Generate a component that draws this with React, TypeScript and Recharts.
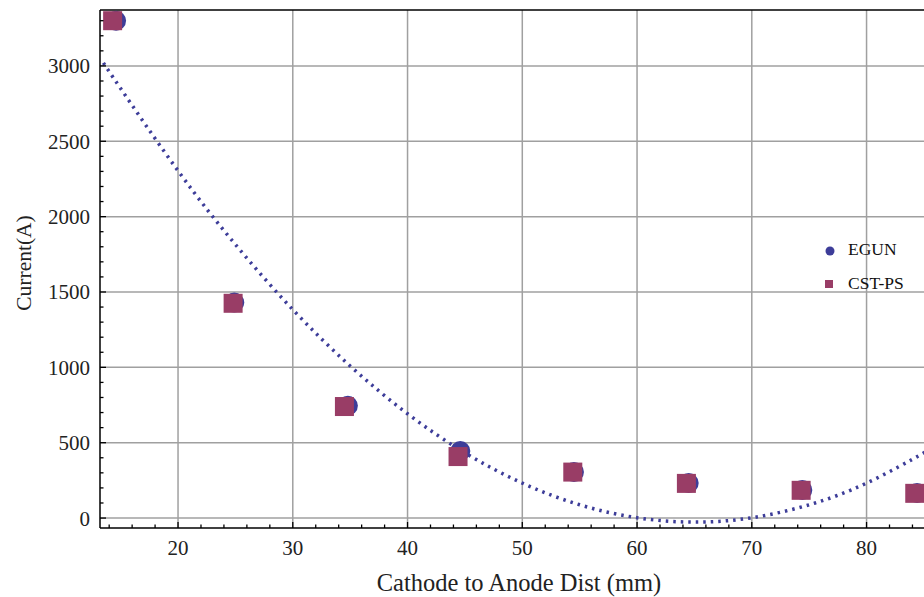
import React from "react";
import { ComposedChart, Scatter, Line, XAxis, YAxis, CartesianGrid, Legend, ReferenceLine } from "recharts";

const EGUN_X = [14.6, 24.9, 34.8, 44.6, 54.5, 64.5, 74.4, 84.4];
const EGUN_Y = [3300, 1430, 745, 445, 305, 232, 186, 166];
const CST_X = [14.3, 24.8, 34.5, 44.4, 54.4, 64.3, 74.3, 84.2];
const CST_Y = [3300, 1425, 740, 408, 305, 230, 184, 164];

// dotted fit curve
const FIT_X = [13.5, 15, 20, 25, 30, 35, 40, 45, 50, 55, 60, 65, 70, 75, 80, 85, 86.5];
const FIT_Y = [3020, 2850, 2304, 1815, 1383, 1009, 692, 433, 232, 88, 2, -27, 2, 88, 232, 433, 505];

const X_MAJOR = [20, 30, 40, 50, 60, 70, 80];
const X_TICKS = [14, 16, 18, 20, 22, 24, 26, 28, 30, 32, 34, 36, 38, 40, 42, 44, 46, 48, 50, 52, 54, 56, 58, 60, 62, 64, 66, 68, 70, 72, 74, 76, 78, 80, 82, 84, 86];
const Y_MAJOR = [0, 500, 1000, 1500, 2000, 2500, 3000];
const Y_TICKS = [0, 100, 200, 300, 400, 500, 600, 700, 800, 900, 1000, 1100, 1200, 1300, 1400, 1500, 1600, 1700, 1800, 1900, 2000, 2100, 2200, 2300, 2400, 2500, 2600, 2700, 2800, 2900, 3000, 3100, 3200, 3300];

const egun = EGUN_X.map((x, i) => ({ x, y: EGUN_Y[i] }));
const cst = CST_X.map((x, i) => ({ x, y: CST_Y[i] }));
const fit = FIT_X.map((x, i) => ({ x, y: FIT_Y[i] }));

const EGUN_C = "#3d3d99";
const CST_C = "#993d66";
const FONT = "'Liberation Serif', 'Times New Roman', serif";

const BottomTick = (p: any) => {
  const v = p.payload.value;
  const major = X_MAJOR.includes(v);
  return (
    <g>
      <line x1={p.x} x2={p.x} y1={p.y} y2={p.y - (major ? 6 : 3.5)} stroke="#000" strokeWidth={1.3} />
      {major && (
        <text x={p.x} y={p.y + 27} textAnchor="middle" fontSize={21} fontFamily={FONT} fill="#222">{v}</text>
      )}
    </g>
  );
};

const TopTick = (p: any) => {
  const major = X_MAJOR.includes(p.payload.value);
  return <line x1={p.x} x2={p.x} y1={p.y} y2={p.y + (major ? 6 : 3.5)} stroke="#000" strokeWidth={1.3} />;
};

const LeftTick = (p: any) => {
  const v = p.payload.value;
  const major = Y_MAJOR.includes(v);
  return (
    <g>
      <line x1={p.x} x2={p.x + (major ? 6 : 3.5)} y1={p.y} y2={p.y} stroke="#000" strokeWidth={1.3} />
      {major && (
        <text x={p.x - 10} y={p.y + 7.5} textAnchor="end" fontSize={21} fontFamily={FONT} fill="#222">{v}</text>
      )}
    </g>
  );
};

const XTitle = (p: any) => {
  const vb = p.viewBox;
  return (
    <text x={vb.x + vb.width / 2 - 1} y={591} textAnchor="middle" fontSize={24.5} fontFamily={FONT} fill="#222">
      Cathode to Anode Dist (mm)
    </text>
  );
};

const YTitle = (p: any) => {
  const vb = p.viewBox;
  const cy = vb.y + vb.height / 2 - 6;
  return (
    <text x={31} y={cy} transform={`rotate(-90 31 ${cy})`} textAnchor="middle" fontSize={21.5} fontFamily={FONT} fill="#222">
      Current(A)
    </text>
  );
};

const LegendBox = () => (
  <svg width={110} height={60}>
    <circle cx={12} cy={13} r={4.5} fill={EGUN_C} />
    <text x={30} y={17} fontSize={17.5} fontFamily={FONT} fill="#111">EGUN</text>
    <rect x={7} y={42} width={8} height={8} fill={CST_C} />
    <text x={30} y={51} fontSize={17.5} fontFamily={FONT} fill="#111">CST-PS</text>
  </svg>
);

const Circ = (p: any) => <circle cx={p.cx} cy={p.cy} r={10} fill={EGUN_C} />;
const Sq = (p: any) => <rect x={p.cx - 9.5} y={p.cy - 9.5} width={19} height={19} fill={CST_C} />;

export default function App() {
  return (
    <div style={{ position: "absolute", left: 0, top: 0, width: 924, height: 597, overflow: "hidden", background: "#fff" }}>
      <ComposedChart width={944} height={597} margin={{ top: 10, right: 4, bottom: 0, left: 0 }}>
        <CartesianGrid verticalValues={X_MAJOR} horizontalValues={Y_MAJOR} stroke="#a0a0a0" strokeWidth={1.5} />
        <XAxis
          type="number" dataKey="x" domain={[13.2, 86.4]} allowDataOverflow ticks={X_TICKS} interval={0}
          height={69} tickSize={0} tickMargin={0} tick={<BottomTick />}
          axisLine={{ stroke: "#000", strokeWidth: 1.5 }}
          label={{ content: <XTitle /> }}
        />
        <XAxis
          xAxisId="top" orientation="top" type="number" dataKey="x" domain={[13.2, 86.4]} allowDataOverflow
          ticks={X_TICKS} interval={0} height={0} tickSize={0} tickMargin={0} tick={<TopTick />}
          axisLine={{ stroke: "#000", strokeWidth: 1.5 }}
        />
        <YAxis
          type="number" dataKey="y" domain={[-66, 3371]} allowDataOverflow ticks={Y_TICKS} interval={0}
          width={100} tickSize={0} tickMargin={0} tick={<LeftTick />}
          axisLine={{ stroke: "#000", strokeWidth: 1.5 }}
          label={{ content: <YTitle /> }}
        />
        <ReferenceLine y={3371} stroke="#000" strokeWidth={1.5} />
        <Legend layout="vertical" align="center" verticalAlign="middle" content={<LegendBox />}
          wrapperStyle={{ left: 818, top: 238, width: 110, height: 60 }} />
        <Line data={fit} dataKey="y" type="natural" stroke={EGUN_C} strokeWidth={3.5}
          strokeDasharray="2.5 5" dot={false} isAnimationActive={false} legendType="none" />
        <Scatter data={egun} dataKey="y" name="EGUN" shape={<Circ />} isAnimationActive={false} />
        <Scatter data={cst} dataKey="y" name="CST-PS" shape={<Sq />} isAnimationActive={false} />
      </ComposedChart>
    </div>
  );
}
